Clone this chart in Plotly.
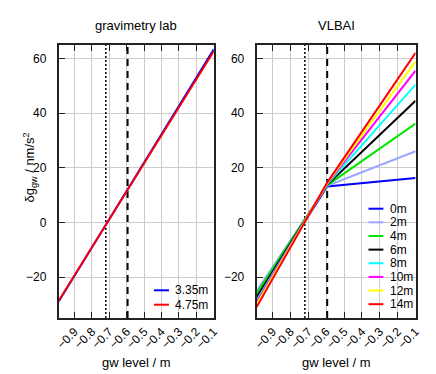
import plotly.graph_objects as go

# ---------------- data ----------------
x_ticks = [-0.9, -0.8, -0.7, -0.6, -0.5, -0.4, -0.3, -0.2, -0.1]
y_ticks = [-20, 0, 20, 40, 60]
x_range = [-0.99, -0.1]
y_range = [-35, 65]
vline_dotted = -0.72
vline_dashed = -0.595

# left panel: gravimetry lab
lab_gw = [-0.99, -0.1]
lab_names = ["3.35m", "4.75m"]
lab_colors = ["#0000ff", "#ff0000"]
lab_335 = [-28.9, 63.4]
lab_475 = [-28.6, 62.7]
lab_values = [lab_335, lab_475]

# right panel: VLBAI
vlbai_gw = [-0.99, -0.595, -0.1]
vlbai_names = ["0m", "2m", "4m", "6m", "8m", "10m", "12m", "14m"]
vlbai_colors = ["#0000ff", "#9da6ff", "#00e600", "#000000",
                "#00ffff", "#ff00ff", "#ffff00", "#ff0000"]
v_0m = [-27.5, 13.2, 16.3]
v_2m = [-25.0, 13.4, 26.1]
v_4m = [-26.0, 13.6, 36.2]
v_6m = [-27.3, 13.8, 44.6]
v_8m = [-28.5, 14.0, 50.5]
v_10m = [-29.2, 14.2, 55.6]
v_12m = [-30.0, 14.4, 59.0]
v_14m = [-31.0, 14.6, 62.1]
vlbai_values = [v_0m, v_2m, v_4m, v_6m, v_8m, v_10m, v_12m, v_14m]

# ---------------- figure ----------------
W, H = 436, 374
FONT = "Liberation Sans, Arial, Helvetica, sans-serif"

def px_x(p):
    return p / W

def px_y(p):
    return 1 - p / H

fig = go.Figure()

# vertical reference lines (drawn first, under the data)
for xa, ya in [("x", "y"), ("x2", "y2")]:
    fig.add_trace(go.Scatter(x=[vline_dotted, vline_dotted], y=y_range, mode="lines",
                             line=dict(color="black", width=1.5, dash="2px,2px"),
                             xaxis=xa, yaxis=ya, showlegend=False, hoverinfo="skip"))
    fig.add_trace(go.Scatter(x=[vline_dashed, vline_dashed], y=y_range, mode="lines",
                             line=dict(color="black", width=2, dash="7px,5px"),
                             xaxis=xa, yaxis=ya, showlegend=False, hoverinfo="skip"))

for name, col, vals in zip(lab_names, lab_colors, lab_values):
    fig.add_trace(go.Scatter(x=lab_gw, y=vals, mode="lines", name=name,
                             line=dict(color=col, width=2),
                             xaxis="x", yaxis="y", showlegend=False))

for name, col, vals in zip(vlbai_names, vlbai_colors, vlbai_values):
    fig.add_trace(go.Scatter(x=vlbai_gw, y=vals, mode="lines", name=name,
                             line=dict(color=col, width=2),
                             xaxis="x2", yaxis="y2", showlegend=False))

ydom = [px_y(310), px_y(37)]
axis_common = dict(showgrid=True, gridcolor="#cccccc", gridwidth=1,
                   showline=True, linecolor="#222222", linewidth=2,
                   ticks="inside", ticklen=6, tickcolor="#222222", tickwidth=1,
                   zeroline=False, tickfont=dict(family=FONT, size=12, color="#000"))

fig.update_layout(
    width=W, height=H,
    margin=dict(l=0, r=0, t=0, b=0),
    paper_bgcolor="white", plot_bgcolor="white",
    font=dict(family=FONT, size=13, color="#000"),
    xaxis=dict(domain=[px_x(48), px_x(207)], range=x_range, tickvals=x_ticks,
               tickangle=-45, mirror="ticks", anchor="y", **axis_common),
    yaxis=dict(domain=ydom, range=y_range, tickvals=y_ticks, mirror=True,
               anchor="x", ticklabelstandoff=8, **axis_common),
    xaxis2=dict(domain=[px_x(251), px_x(414)], range=x_range, tickvals=x_ticks,
                tickangle=-45, mirror="ticks", anchor="y2", **axis_common),
    yaxis2=dict(domain=ydom, range=y_range, tickvals=y_ticks, mirror=True,
                anchor="x2", ticklabelstandoff=8, **axis_common),
)

# titles
ann = []
ann.append(dict(text="gravimetry lab", x=px_x(127.5), y=px_y(18), xref="paper", yref="paper",
                showarrow=False, xanchor="center", yanchor="middle", font=dict(size=13)))
ann.append(dict(text="VLBAI", x=px_x(332.5), y=px_y(18), xref="paper", yref="paper",
                showarrow=False, xanchor="center", yanchor="middle", font=dict(size=13)))
ann.append(dict(text="gw level / m", x=px_x(127.5), y=px_y(354), xref="paper", yref="paper",
                showarrow=False, xanchor="center", yanchor="middle", font=dict(size=13)))
ann.append(dict(text="gw level / m", x=px_x(332.5), y=px_y(354), xref="paper", yref="paper",
                showarrow=False, xanchor="center", yanchor="middle", font=dict(size=13)))
ann.append(dict(text="δg<sub>gw</sub> / nm/s<sup>2</sup>", x=px_x(18), y=px_y(160),
                xref="paper", yref="paper", showarrow=False, textangle=-90,
                xanchor="center", yanchor="middle", font=dict(size=13)))

# manual legends (compact spacing)
def add_legend(names, colors, x0, x1, xt, ys):
    for n, c, yy in zip(names, colors, ys):
        fig.add_shape(type="line", xref="paper", yref="paper",
                      x0=px_x(x0), x1=px_x(x1), y0=px_y(yy), y1=px_y(yy),
                      line=dict(color=c, width=2))
        ann.append(dict(text=n, x=px_x(xt), y=px_y(yy), xref="paper", yref="paper",
                        showarrow=False, xanchor="left", yanchor="middle",
                        font=dict(size=12)))

add_legend(lab_names, lab_colors, 145.7, 161, 165.5, [282.3, 296.7])
add_legend(vlbai_names, vlbai_colors, 365.7, 381, 385.5,
           [200.7 + 13.64 * i for i in range(len(vlbai_names))])

fig.update_layout(annotations=ann)
fig.write_html("out.html")
